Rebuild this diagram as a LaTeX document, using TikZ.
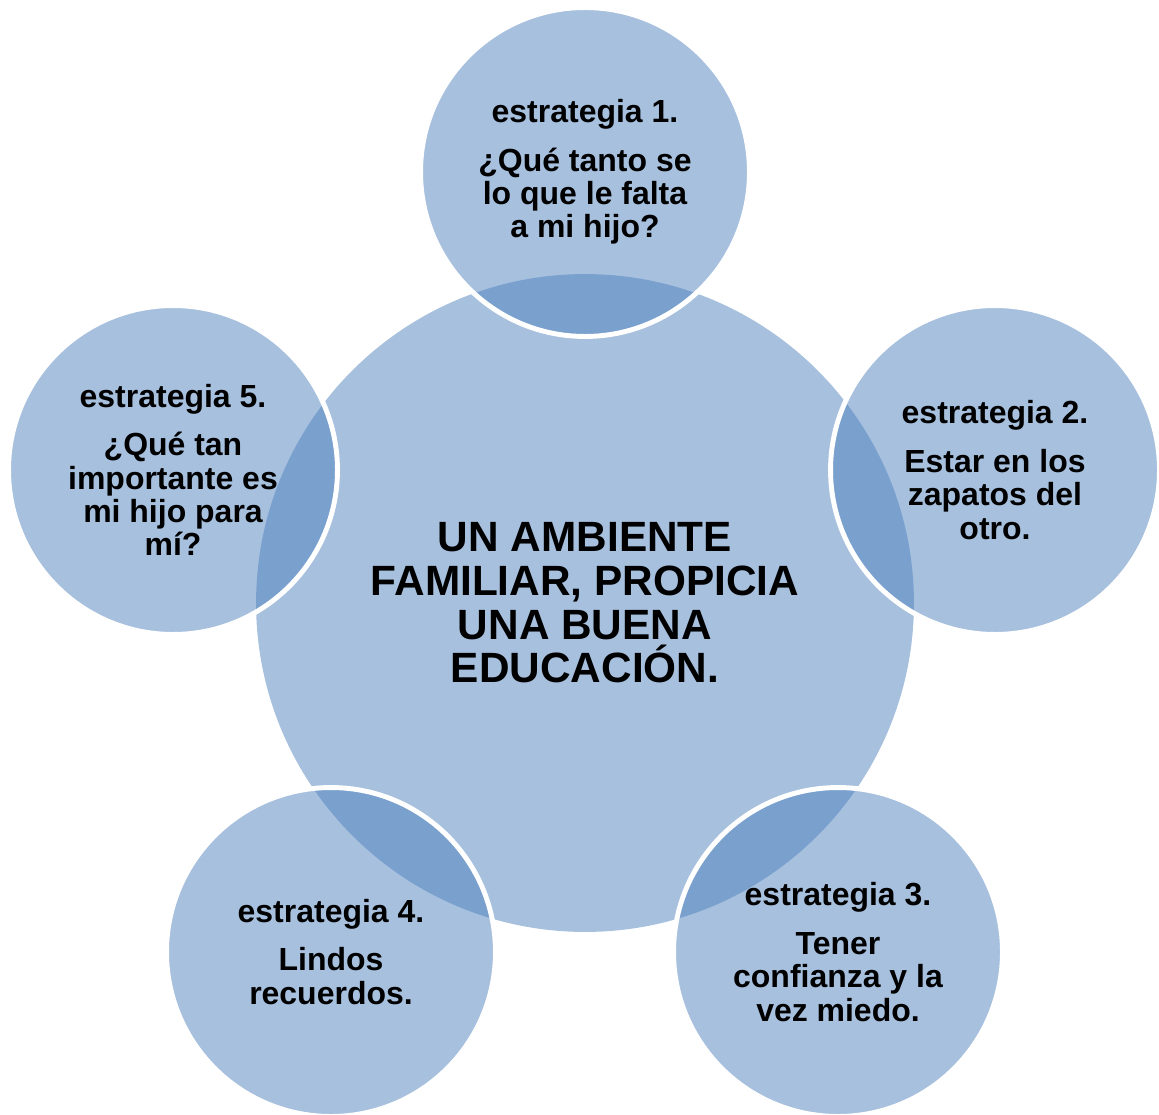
\documentclass[tikz,border=0pt]{standalone}
\usepackage{fontspec}
\setmainfont{Liberation Sans}
\definecolor{acento}{HTML}{4F81BD}
\begin{document}
\begin{tikzpicture}[x=0.02cm,y=-0.02cm,
    centro/.style={circle,inner sep=0pt,minimum size=13.16cm,fill=acento,fill opacity=0.5,text opacity=1,align=center,
      font=\bfseries\fontsize{24.1pt}{24.9pt}\selectfont},
    estr/.style={circle,inner sep=0pt,minimum size=6.58cm,fill=acento,fill opacity=0.5,draw=white,draw opacity=1,line width=2.8pt,
      text opacity=1,align=center,font=\bfseries\fontsize{18.2pt}{19pt}\selectfont}]
  \useasboundingbox (0,0) rectangle (1159,1115);
  \node[centro] (amb) at (585,603) {UN AMBIENTE\\FAMILIAR, PROPICIA\\UNA BUENA\\EDUCACIÓN.};
  \node[estr] (e1) at (585,172) {estrategia 1.\\[8.6pt]¿Qué tanto se\\lo que le falta\\a mi hijo?};
  \node[estr] (e2) at (995,470) {estrategia 2.\\[8.6pt]Estar en los\\zapatos del\\otro.};
  \node[estr] (e3) at (838,952) {estrategia 3.\\[8.6pt]Tener\\confianza y la\\vez miedo.};
  \node[estr] (e4) at (331,952) {estrategia 4.\\[8.6pt]Lindos\\recuerdos.};
  \node[estr] (e5) at (173,470) {estrategia 5.\\[8.6pt]¿Qué tan\\importante es\\mi hijo para\\mí?};
\end{tikzpicture}
\end{document}
